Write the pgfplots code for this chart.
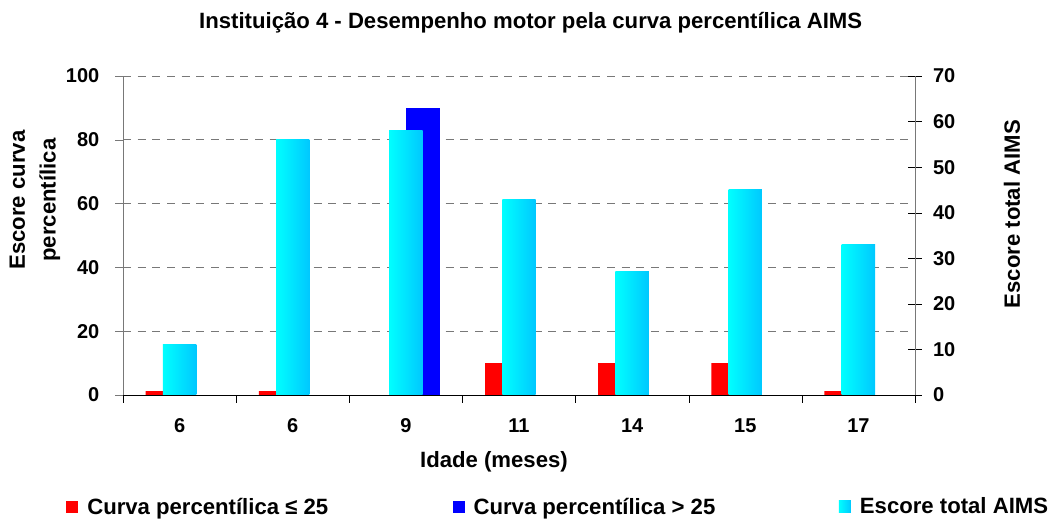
\documentclass[border=0pt]{standalone}
\usepackage{pgfplots}
\pgfplotsset{compat=1.18}
\usepackage{fontspec}
\setmainfont{Liberation Sans}
\definecolor{aqlight}{RGB}{0,255,255}
\definecolor{aqdark}{RGB}{0,200,255}
\definecolor{gridgray}{RGB}{120,120,120}
\begin{document}
\begin{tikzpicture}[font=\bfseries\fontsize{16.6}{20}\selectfont]
\path[use as bounding box] (0,0) rectangle (787.5pt,390.75pt);
\pgfplotsset{
  sq legend/.style={legend image code/.code={\fill[##1] (0pt,-4.5pt) rectangle (9pt,4.5pt);}},
  cyanbar/.style={sq legend, left color=aqlight, right color=aqdark, draw=none, bar shift=0},
  common/.style={
    at={(92.25pt,94.5pt)}, anchor=south west, scale only axis,
    width=594pt, height=239.25pt,
    xmin=-0.5, xmax=6.5, ymin=0,
    /pgf/number format/assume math mode=true,
    ticklabel style={font=\bfseries\fontsize{15}{18}\selectfont},
    label style={font=\bfseries\fontsize{16.6}{20}\selectfont},
  }
}
\begin{axis}[common,
  ymax=100, ytick={0,20,...,100},
  axis x line*=bottom, axis y line*=left,
  x axis line style={black,-}, y axis line style={gridgray,-},
  xtick={0,...,6}, xticklabels={6,6,9,11,14,15,17},
  minor xtick={-0.5,0.5,...,6.5},
  tick align=outside, major tick length=6pt, minor tick length=6pt,
  major x tick style={draw=none}, minor x tick style={black},
  y tick style={gridgray},
  xticklabel style={yshift=-8pt},
  yticklabel style={xshift=-8.25pt},
  ymajorgrids, grid style={gridgray, dash pattern=on 6pt off 5pt, line width=0.6pt},
  ybar, bar width=0.3,
  xlabel={Idade (meses)},
  xlabel style={at={(axis description cs:0.4684,-0.21)}, anchor=center},
  ylabel={Escore curva\\percentílica},
  ylabel style={at={(axis description cs:-0.1111,0.611)}, anchor=center, align=center, font=\bfseries\fontsize{16.6}{23}\selectfont},
]
\addplot[fill=red, draw=none, bar shift=-0.15] coordinates {(0,1.2) (1,1.2) (3,10) (4,10) (5,10) (6,1.2)};
\addplot[fill=blue, draw=none, bar shift=0.15] coordinates {(2,90)};
\end{axis}
\begin{axis}[common,
  ymax=70, ytick={0,10,...,70},
  axis y line*=right, axis x line=none,
  y axis line style={gridgray,-},
  tick align=center, major tick length=10pt,
  y tick style={black},
  yticklabel style={xshift=5pt},
  ybar, bar width=0.295,
  ylabel={Escore total AIMS},
  ylabel style={at={(axis description cs:1.1225,0.567)}, anchor=center, rotate=0},
  legend style={draw=none, fill=none, at={(axis description cs:-0.077,-0.351)}, anchor=west,
    legend columns=3, font=\bfseries\fontsize{16.6}{20}\selectfont,
    nodes={inner sep=0pt},
    /tikz/every odd column/.append style={column sep=6.75pt}},
  legend cell align=left,
]
\addlegendimage{sq legend, fill=red, draw=none}
\addlegendentry{\makebox[274pt][l]{Curva percentílica ≤ 25}}
\addlegendimage{sq legend, fill=blue, draw=none}
\addlegendentry{\makebox[274pt][l]{Curva percentílica > 25}}
\addplot[cyanbar] coordinates {(0,11)};
\addlegendentry{Escore total AIMS}
\addplot[cyanbar, forget plot] coordinates {(1,56)};
\addplot[cyanbar, forget plot] coordinates {(2,58)};
\addplot[cyanbar, forget plot] coordinates {(3,43)};
\addplot[cyanbar, forget plot] coordinates {(4,27)};
\addplot[cyanbar, forget plot] coordinates {(5,45)};
\addplot[cyanbar, forget plot] coordinates {(6,33)};
\end{axis}
\node[font=\bfseries\fontsize{16.6}{20}\selectfont] at (398pt,374pt) {Instituição 4 - Desempenho motor pela curva percentílica AIMS};
\end{tikzpicture}
\end{document}
